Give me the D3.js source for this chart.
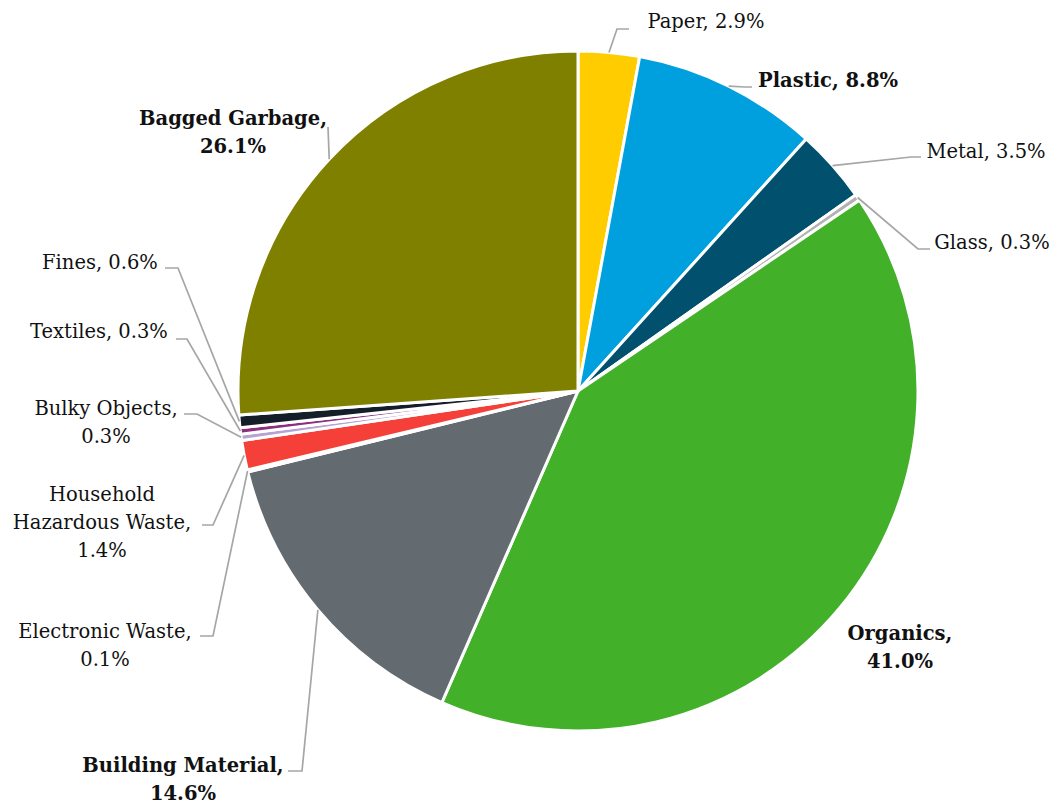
<!DOCTYPE html>
<html>
<head>
<meta charset="utf-8">
<script src="https://cdn.jsdelivr.net/npm/d3@7"></script>
<style>
  html, body { margin: 0; padding: 0; background: #fff; }
  text { font-family: "DejaVu Serif", "Liberation Serif", serif; font-size: 19.5px; fill: #111; }
</style>
</head>
<body>
<svg id="chart" width="1052" height="806"></svg>
<script>
// Waste composition by category (percent of total)
const categories = ["Paper", "Plastic", "Metal", "Glass", "Organics", "Building Material",
  "Electronic Waste", "Household Hazardous Waste", "Bulky Objects", "Textiles", "Fines", "Bagged Garbage"];
const shares = [2.9, 8.8, 3.5, 0.3, 41.0, 14.6, 0.1, 1.4, 0.3, 0.3, 0.6, 26.1];
const colors = ["#FFCC00", "#00A0DF", "#00506E", "#B2B2B2", "#43B02A", "#636B70",
  "#8FC8E8", "#F5403A", "#B5A3D3", "#8B2F7F", "#131E29", "#808000"];
const boldLabels = ["Plastic", "Organics", "Building Material", "Bagged Garbage"];

// Label layout: text lines, centre position, and leader elbow/end points
const labelLayout = {
  "Paper":                     { lines: ["Paper, 2.9%"], x: 706, y: 21, elbow: [617, 29], end: [629, 29] },
  "Plastic":                   { lines: ["Plastic, 8.8%"], x: 828, y: 80, elbow: [745, 87], end: [752, 87] },
  "Metal":                     { lines: ["Metal, 3.5%"], x: 986, y: 151, elbow: [911, 157], end: [921, 157] },
  "Glass":                     { lines: ["Glass, 0.3%"], x: 992, y: 242, elbow: [918, 249], end: [930, 249] },
  "Organics":                  { lines: ["Organics,", "41.0%"], x: 900, y: 633 },
  "Building Material":         { lines: ["Building Material,", "14.6%"], x: 183, y: 765, elbow: [302, 771], end: [288, 771] },
  "Electronic Waste":          { lines: ["Electronic Waste,", "0.1%"], x: 105, y: 631, elbow: [213, 636], end: [200, 636] },
  "Household Hazardous Waste": { lines: ["Household", "Hazardous Waste,", "1.4%"], x: 102, y: 494, elbow: [213, 525], end: [202, 525] },
  "Bulky Objects":             { lines: ["Bulky Objects,", "0.3%"], x: 106, y: 408, elbow: [197, 414], end: [184, 414] },
  "Textiles":                  { lines: ["Textiles, 0.3%"], x: 99, y: 331, elbow: [187, 339], end: [176, 339] },
  "Fines":                     { lines: ["Fines, 0.6%"], x: 100, y: 262, elbow: [178, 268], end: [165, 268] },
  "Bagged Garbage":            { lines: ["Bagged Garbage,", "26.1%"], x: 233, y: 118, elbow: [328, 127], end: [328, 127] }
};

const cx = 578, cy = 391, radius = 340, lineGap = 28;
const svg = d3.select("#chart");

const data = categories.map((c, i) => ({ name: c, value: shares[i], color: colors[i] }));
const pie = d3.pie().value(d => d.value).sort(null);
const arcs = pie(data);
const arc = d3.arc().innerRadius(0).outerRadius(radius);

const g = svg.append("g").attr("transform", `translate(${cx},${cy})`);

g.selectAll("path.slice")
  .data(arcs)
  .join("path")
  .attr("class", "slice")
  .attr("d", arc)
  .attr("fill", d => d.data.color)
  .attr("stroke", "#fff")
  .attr("stroke-width", 3)
  .attr("stroke-linejoin", "miter");

// Leader lines from each slice's outer edge at its mid-angle
const leaders = svg.append("g");
arcs.forEach(a => {
  const L = labelLayout[a.data.name];
  if (!L || !L.elbow) return;
  const mid = (a.startAngle + a.endAngle) / 2;
  const sx = cx + radius * Math.sin(mid);
  const sy = cy - radius * Math.cos(mid);
  leaders.append("path")
    .attr("d", d3.line()([[sx, sy], L.elbow, L.end]))
    .attr("fill", "none")
    .attr("stroke", "#A6A6A6")
    .attr("stroke-width", 1.7);
});

// Labels
const labels = svg.append("g");
arcs.forEach(a => {
  const L = labelLayout[a.data.name];
  const t = labels.append("text")
    .attr("text-anchor", "middle")
    .attr("font-weight", boldLabels.includes(a.data.name) ? "bold" : "normal");
  L.lines.forEach((line, i) => {
    t.append("tspan")
      .attr("x", L.x)
      .attr("y", L.y + i * lineGap)
      .attr("dy", "0.35em")
      .text(line);
  });
});
</script>
</body>
</html>
